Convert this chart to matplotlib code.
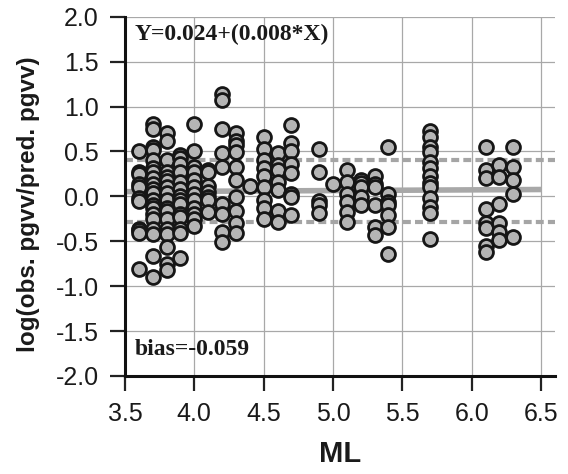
import numpy as np
import matplotlib.pyplot as plt

# residuals, grouped by magnitude (ML)
ml_values = [3.6, 3.7, 3.8, 3.9, 4.0, 4.1, 4.2, 4.3, 4.4, 4.5, 4.6, 4.7,
             4.9, 5.0, 5.1, 5.2, 5.3, 5.4, 5.7, 6.1, 6.2, 6.3]
res_36 = [0.51, 0.27, 0.25, 0.14, 0.10, -0.02, -0.05, -0.36, -0.38, -0.41, -0.81]
res_37 = [0.81, 0.75, 0.55, 0.52, 0.40, 0.32, 0.27, 0.20, 0.14, 0.08, 0.04, -0.04,
          -0.10, -0.13, -0.20, -0.25, -0.36, -0.42, -0.66, -0.90]
res_38 = [0.70, 0.62, 0.40, 0.27, 0.22, 0.17, 0.10, 0.04, -0.04, -0.13, -0.16,
          -0.25, -0.36, -0.42, -0.56, -0.75, -0.82]
res_39 = [0.46, 0.43, 0.36, 0.27, 0.16, 0.08, 0.00, -0.04, -0.09, -0.20, -0.23,
          -0.36, -0.41, -0.69]
res_40 = [0.80, 0.51, 0.33, 0.27, 0.18, 0.10, 0.03, -0.04, -0.13, -0.20, -0.25, -0.33]
res_41 = [0.29, 0.27, 0.12, 0.05, -0.01, -0.04, -0.18]
res_42 = [1.14, 1.07, 0.75, 0.48, 0.33, -0.08, -0.20, -0.40, -0.51]
res_43 = [0.70, 0.62, 0.57, 0.49, 0.33, 0.18, -0.01, -0.16, -0.30, -0.41]
res_44 = [0.12]
res_45 = [0.66, 0.53, 0.40, 0.32, 0.23, 0.10, -0.04, -0.13, -0.25]
res_46 = [0.48, 0.35, 0.29, 0.16, 0.07, -0.16, -0.29]
res_47 = [0.79, 0.59, 0.51, 0.36, 0.26, 0.03, -0.01, -0.21]
res_49 = [0.53, 0.27, -0.05, -0.10, -0.19]
res_50 = [0.14]
res_51 = [0.29, 0.16, 0.03, -0.06, -0.17, -0.29]
res_52 = [0.18, 0.15, 0.10, -0.01, -0.10]
res_53 = [0.23, 0.14, 0.10, -0.10, -0.34, -0.43]
res_54 = [0.55, 0.03, -0.06, -0.10, -0.21, -0.34, -0.64]
res_57 = [0.73, 0.66, 0.55, 0.49, 0.38, 0.32, 0.23, 0.15, 0.10, -0.02, -0.12,
          -0.19, -0.47]
res_61 = [0.55, 0.29, 0.20, -0.14, -0.30, -0.35, -0.55, -0.62]
res_62 = [0.35, 0.21, -0.08, -0.30, -0.40, -0.49]
res_63 = [0.55, 0.33, 0.18, 0.03, -0.45]

residuals = [res_36, res_37, res_38, res_39, res_40, res_41, res_42, res_43, res_44,
             res_45, res_46, res_47, res_49, res_50, res_51, res_52, res_53, res_54,
             res_57, res_61, res_62, res_63]

# regression and +/- 1 sigma band
intercept, slope = 0.024, 0.008
upper_band, lower_band = 0.40, -0.29
fit_label = 'Y=0.024+(0.008*X)'
bias_label = 'bias=-0.059'

xs = np.concatenate([[m] * len(r) for m, r in zip(ml_values, residuals)])
ys = np.concatenate(residuals)

plt.rcParams['font.family'] = ['Liberation Sans', 'DejaVu Sans']

fig = plt.figure(figsize=(5.68, 4.74), dpi=100)
ax = fig.add_axes([0.220, 0.2068, 0.757, 0.758])

ax.set_xlim(3.5, 6.6)
ax.set_ylim(-2.0, 2.0)
ax.set_xticks([3.5, 4.0, 4.5, 5.0, 5.5, 6.0, 6.5])
ax.set_yticks([-2.0, -1.5, -1.0, -0.5, 0.0, 0.5, 1.0, 1.5, 2.0])
ax.xaxis.set_major_formatter(plt.FormatStrFormatter('%.1f'))
ax.yaxis.set_major_formatter(plt.FormatStrFormatter('%.1f'))
ax.grid(True, color='#a8a8a8', linewidth=0.9, zorder=0)
ax.set_axisbelow(True)

for side in ['top', 'right']:
    ax.spines[side].set_visible(False)
for side in ['left', 'bottom']:
    ax.spines[side].set_linewidth(2.2)
    ax.spines[side].set_color('#111111')

ax.tick_params(axis='both', length=10.5, width=1.6, color='#222222',
               labelsize=18, pad=8.5, labelcolor='#1a1a1a')

# +/- sigma and fit lines
ax.axhline(upper_band, color='#a5a5a5', linewidth=3, linestyle=(0, (1.9, 1.0)), zorder=1)
ax.axhline(lower_band, color='#a5a5a5', linewidth=3, linestyle=(0, (1.9, 1.0)), zorder=1)
fit_x = np.array([3.5, 6.5])
ax.plot(fit_x, intercept + slope * fit_x, color='#a8a8a8', linewidth=4, zorder=1,
        solid_capstyle='butt')

ax.scatter(xs, ys, s=100, facecolor='#b5b5b5', edgecolor='#161616',
           linewidth=2.0, zorder=3)

ax.text(3.57, 1.80, fit_label, family=['Liberation Serif'], fontweight='bold',
        fontsize=17, va='center', ha='left', color='#1a1a1a')
ax.text(3.57, -1.71, bias_label, family=['Liberation Serif'], fontweight='bold',
        fontsize=17, va='center', ha='left', color='#1a1a1a')

ax.set_xlabel('ML', fontsize=21, fontweight='bold', labelpad=10, color='#1a1a1a')
ax.set_ylabel('log(obs. pgvv/pred. pgvv)', fontsize=17.5, fontweight='bold',
              color='#1a1a1a')
ax.yaxis.set_label_coords(-0.198, 0.479)

fig.savefig('out.png', dpi=100)
